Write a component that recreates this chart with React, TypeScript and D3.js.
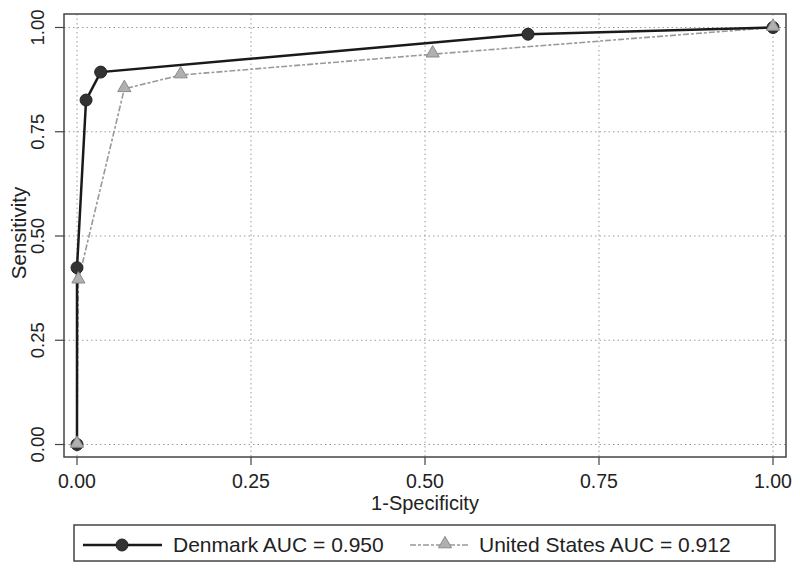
import React from "react";
import * as d3 from "d3";

const denmarkFpr = [0, 0, 0.013, 0.034, 0.648, 1];
const denmarkSens = [0, 0.424, 0.826, 0.893, 0.984, 1];
const usFpr = [0, 0.002, 0.068, 0.149, 0.511, 1];
const usSens = [0, 0.394, 0.853, 0.886, 0.936, 1];
const tickValues = [0, 0.25, 0.5, 0.75, 1];
const tickLabels = ["0.00", "0.25", "0.50", "0.75", "1.00"];
const legendLabels = ["Denmark AUC = 0.950", "United States AUC = 0.912"];
const xTitle = "1-Specificity";
const yTitle = "Sensitivity";

const W = 800;
const H = 572;
const FONT = "'Liberation Sans', Arial, Helvetica, sans-serif";

export default function App() {
  const x = d3.scaleLinear().domain([0, 1]).range([77, 773]);
  const y = d3.scaleLinear().domain([0, 1]).range([444.5, 27.5]);
  const frame = { left: 64, right: 786, top: 14, bottom: 457 };

  const dk = denmarkFpr.map((f, i) => [f, denmarkSens[i]] as [number, number]);
  const us = usFpr.map((f, i) => [f, usSens[i]] as [number, number]);
  const line = d3
    .line<[number, number]>()
    .x((d) => x(d[0]))
    .y((d) => y(d[1]));

  const tri = d3.symbol().type(d3.symbolTriangle).size(75)();

  return (
    <svg
      width={W}
      height={H}
      style={{ position: "absolute", left: 0, top: 0, background: "#fff" }}
      fontFamily={FONT}
    >
      <rect x={0} y={0} width={W} height={H} fill="#fff" />
      {/* grid */}
      {tickValues.map((t, i) => (
        <line
          key={"gy" + i}
          x1={frame.left}
          x2={frame.right}
          y1={y(t)}
          y2={y(t)}
          stroke="#9a9a9a"
          strokeWidth={1}
          strokeDasharray="1.5,3"
        />
      ))}
      {tickValues.map((t, i) => (
        <line
          key={"gx" + i}
          x1={x(t)}
          x2={x(t)}
          y1={frame.top}
          y2={frame.bottom}
          stroke="#9a9a9a"
          strokeWidth={1}
          strokeDasharray="1.5,3"
        />
      ))}
      {/* frame */}
      <rect
        x={frame.left}
        y={frame.top}
        width={frame.right - frame.left}
        height={frame.bottom - frame.top}
        fill="none"
        stroke="#444"
        strokeWidth={1.5}
      />
      {/* ticks */}
      {tickValues.map((t, i) => (
        <g key={"tx" + i}>
          <line x1={x(t)} x2={x(t)} y1={frame.bottom} y2={frame.bottom + 8} stroke="#444" strokeWidth={1.2} />
          <text x={x(t)} y={488} textAnchor="middle" fontSize={19.5} fill="#222">
            {tickLabels[i]}
          </text>
        </g>
      ))}
      {tickValues.map((t, i) => (
        <g key={"ty" + i}>
          <line x1={frame.left - 9} x2={frame.left} y1={y(t)} y2={y(t)} stroke="#444" strokeWidth={1.2} />
          <text
            transform={`translate(44,${y(t)}) rotate(-90)`}
            textAnchor="middle"
            fontSize={18.5}
            fill="#222"
          >
            {tickLabels[i]}
          </text>
        </g>
      ))}
      {/* titles */}
      <text x={425} y={510} textAnchor="middle" fontSize={20} fill="#222">
        {xTitle}
      </text>
      <text transform={`translate(26,233) rotate(-90)`} textAnchor="middle" fontSize={20.5} fill="#222">
        {yTitle}
      </text>
      {/* US series */}
      <path d={line(us) || ""} fill="none" stroke="#999" strokeWidth={1.6} strokeDasharray="6,2,3,2" />
      {/* Denmark series */}
      <path d={line(dk) || ""} fill="none" stroke="#1a1a1a" strokeWidth={2.5} />
      {dk.map((d, i) => (
        <circle key={"dk" + i} cx={x(d[0])} cy={y(d[1])} r={6} fill="#333" stroke="#222" strokeWidth={1} />
      ))}
      {us.map((d, i) => (
        <path
          key={"us" + i}
          d={tri || ""}
          transform={`translate(${x(d[0])},${y(d[1]) - 1})`}
          fill="#b0b0b0"
          stroke="#8a8a8a"
          strokeWidth={1}
        />
      ))}
      {/* legend */}
      <rect x={74} y={525} width={701} height={36} fill="#fff" stroke="#444" strokeWidth={1.5} />
      <line x1={83} x2={162} y1={545} y2={545} stroke="#1a1a1a" strokeWidth={2.5} />
      <circle cx={122} cy={545} r={6} fill="#333" stroke="#222" strokeWidth={1} />
      <text x={173} y={552} fontSize={21} fill="#222">
        {legendLabels[0]}
      </text>
      <line x1={410} x2={470} y1={545} y2={545} stroke="#999" strokeWidth={1.6} strokeDasharray="6,2,3,2" />
      <path d={tri || ""} transform="translate(445,544)" fill="#b0b0b0" stroke="#8a8a8a" strokeWidth={1} />
      <text x={479} y={552} fontSize={21} fill="#222">
        {legendLabels[1]}
      </text>
    </svg>
  );
}
